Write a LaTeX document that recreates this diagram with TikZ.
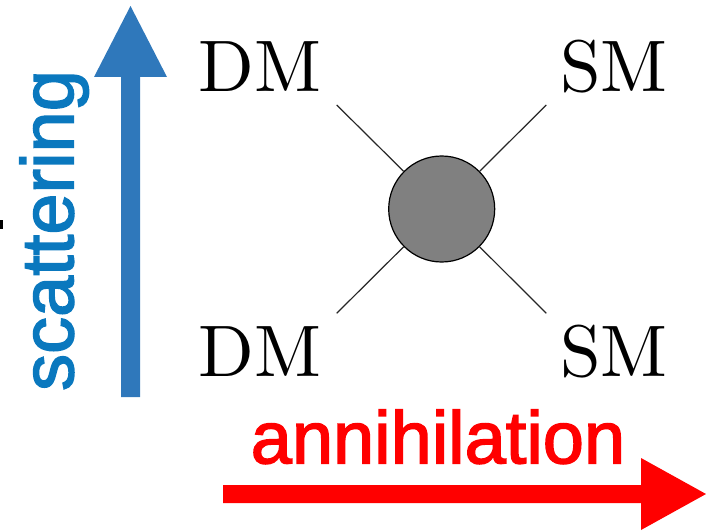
\documentclass[tikz,border=0pt]{standalone}
\usepackage{fontspec}
\newfontfamily\labelsans{Liberation Sans}[FakeBold=2]
\definecolor{scatblue}{RGB}{47,120,187}
\definecolor{scattext}{RGB}{10,120,190}
\definecolor{annred}{RGB}{255,0,0}
\tikzset{
  particle/.style={inner sep=0pt, anchor=base, font=\fontsize{10}{12}\selectfont, scale=7.3, transform shape},
  leg/.style={draw=black!85, line width=1.2pt},
  axislabel/.style={inner sep=0pt, anchor=base, font=\labelsans\fontsize{74}{74}\selectfont},
}
\begin{document}
\begin{tikzpicture}[x=1pt,y=-1pt]
\useasboundingbox (0,0) rectangle (706,532);
% small cropped mark at left edge
\fill[black] (0,220) rectangle (2.5,229);
% blue scattering arrow
\fill[scatblue] (121,397) -- (121,77) -- (94,77) -- (130.5,6) -- (167,77) -- (140,77) -- (140,397) -- cycle;
\node[axislabel, text=scattext, rotate=90] (scat) at (73.3,230.5) {scattering};
% red annihilation arrow
\fill[annred] (223,485) -- (641,485) -- (641,458) -- (706,494) -- (641,530) -- (641,503) -- (223,503) -- cycle;
\node[axislabel, text=annred] (ann) at (438,463.3) {annihilation};
% vertex
\node[circle, draw=black, line width=1.2pt, fill=black!50, minimum size=106pt, inner sep=0pt] (blob) at (441.7,209) {};
\coordinate (ul) at (336.7,105);
\coordinate (ur) at (546.3,105);
\coordinate (ll) at (336.7,313.3);
\coordinate (lr) at (546.3,313.3);
\draw[leg] (ul) -- (blob);
\draw[leg] (ur) -- (blob);
\draw[leg] (ll) -- (blob);
\draw[leg] (lr) -- (blob);
% labels
\node[particle] (dm1) at (260,91.7) {DM};
\node[particle] (sm1) at (614,91.7) {SM};
\node[particle] (dm2) at (260,376.7) {DM};
\node[particle] (sm2) at (614,376.7) {SM};
\end{tikzpicture}
\end{document}
